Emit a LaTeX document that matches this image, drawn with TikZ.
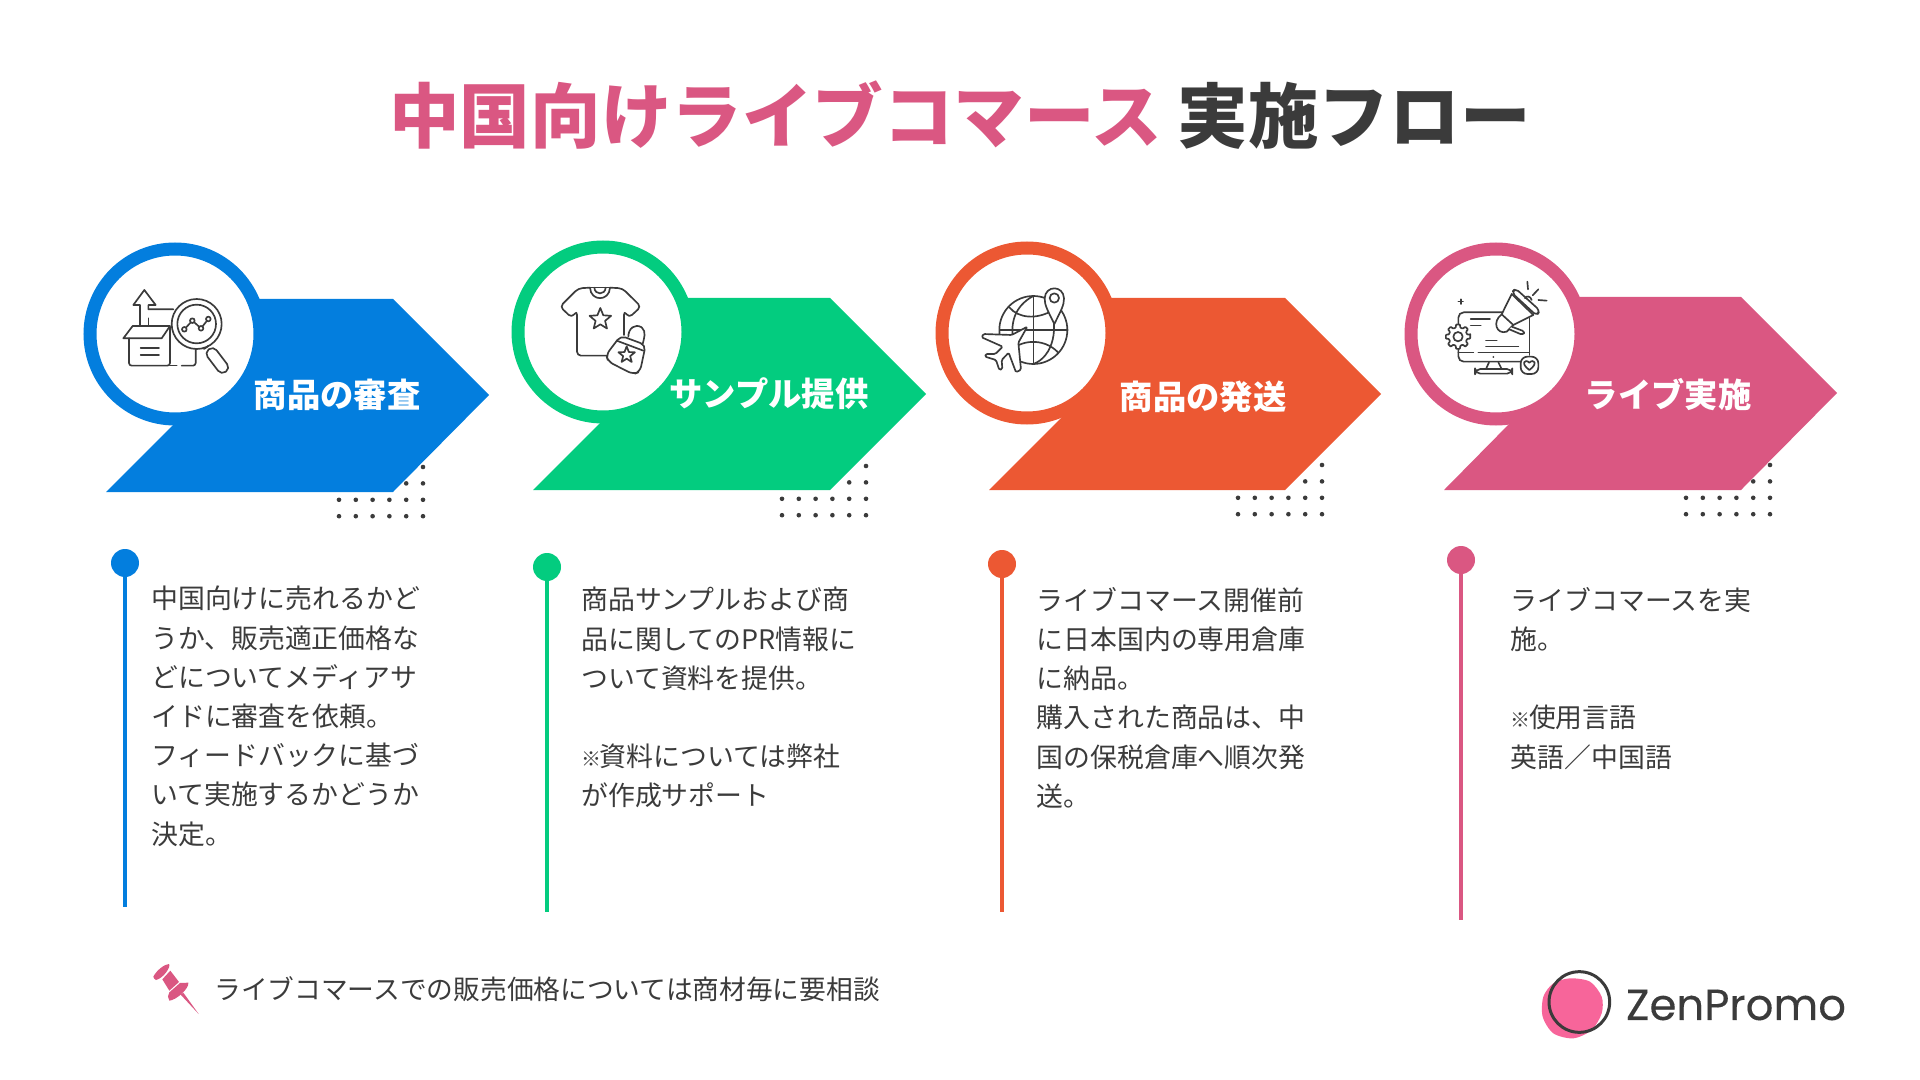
\documentclass[tikz,border=0pt]{standalone}
\usepackage{xcolor}
\usepackage{fontspec}
\setmainfont{Noto Sans CJK JP}
\newfontfamily\logofont[FakeBold=0.25]{Poppins}
\usepackage{tikz}
\usetikzlibrary{positioning, calc}
\definecolor{ink}{HTML}{3B3B3B}
\definecolor{stepblue}{HTML}{037EDE}
\definecolor{stepgreen}{HTML}{03CC7F}
\definecolor{steporange}{HTML}{EC5833}
\definecolor{steppink}{HTML}{DA5782}
\definecolor{logopink}{HTML}{F7659A}

% dot grid under an arrow: left column x, top row y
\newcommand{\dotgrid}[2]{
  \foreach \col in {0,...,5} {
    \foreach \row in {2,3} {
      \fill[ink] ($(#1,#2)+(\col*16.8,\row*16.4)$) circle (2.3);
    }
  }
  \fill[ink] ($(#1,#2)+(84,0)$) circle (2.3);
  \fill[ink] ($(#1,#2)+(84,16.4)$) circle (2.3);
  \fill[ink] ($(#1,#2)+(67.2,16.4)$) circle (2.3);
}
% five point star: x, y, outer radius, inner radius
\newcommand{\iconstar}[4]{
  \draw[shift={(#1,#2)}] (-90:#3) \foreach \a in {0,72,...,288} {
    -- ({\a-54}:#4) -- ({\a-18}:#3) } -- cycle;
}
% small reference mark
\newcommand{\refmark}{\makebox[0.68em][l]{\fontsize{15}{29.4}\bfseries\selectfont ※}}

\begin{document}
\begin{tikzpicture}[
    x=0.75pt, y=-0.75pt,
    icon/.style={draw=ink, line width=1.25pt, line join=round, line cap=round},
    ring/.style={circle, fill=white, line width=9.75pt, minimum size=127.5pt, inner sep=0pt},
    pinhead/.style={circle, minimum size=21pt, inner sep=0pt},
    pinline/.style={line width=3.4pt},
    steplabel/.style={text=white, font=\fontsize{25}{30}\bfseries\selectfont},
    bodytext/.style={text=ink, anchor=north west, align=left, inner sep=0pt, font=\fontsize{20.15}{29.4}\selectfont}
  ]
  \useasboundingbox (0,0) rectangle (1920,1080);

  % Title
  \node[font=\fontsize{52.9}{60}\bfseries\selectfont, text=ink] (title) at (960,115)
    {\textcolor{steppink}{中国向けライブコマース} 実施フロー};

  % Arrows
  \fill[stepblue] (175,299) -- (393,299) -- (489,395) -- (393,492) -- (106,492) -- (175,423) -- (175,334) -- cycle;
  \fill[stepgreen] (603,298) -- (830,298) -- (926,394) -- (830,490) -- (533,490) -- (604,419) -- (603,332) -- cycle;
  \fill[steporange] (1027,298) -- (1285,298) -- (1381,394) -- (1285,490) -- (989,490) -- (1065,414) -- (1027,333) -- cycle;
  \fill[steppink] (1496,297) -- (1741,297) -- (1837,393) -- (1741,490) -- (1444,490) -- (1513,420) -- (1496,334) -- cycle;

  % Dots
  \dotgrid{339}{467}
  \dotgrid{782}{466}
  \dotgrid{1238}{465}
  \dotgrid{1686}{465}

  % Rings
  \node[ring, draw=stepblue] (ring1) at (175,334) {};
  \node[ring, draw=stepgreen] (ring2) at (603,332) {};
  \node[ring, draw=steporange] (ring3) at (1027,333) {};
  \node[ring, draw=steppink] (ring4) at (1496,334) {};

  % Step labels
  \node[steplabel] (label1) at (337,395) {商品の審査};
  \node[steplabel] (label2) at (769,394) {サンプル提供};
  \node[steplabel] (label3) at (1203,397) {商品の発送};
  \node[steplabel] (label4) at (1668,395) {ライブ実施};

  % Box and magnifier icon
  \begin{scope}[shift={(60,220)}, x=0.25pt, y=-0.25pt, icon]
    \draw[rounded corners=2pt] (207,355) -- (207,437) -- (330,437) -- (330,320);
    \draw (190,355) -- (218,318) -- (330,318) -- (305,355) -- cycle;
    \draw (242,385) -- (297,385) (242,405) -- (297,405);
    \draw (240,316) -- (240,255) -- (220,255) -- (253,210) -- (287,255) -- (265,255) -- (265,268) -- (340,268);
    \draw (265,295) -- (265,316);
    \draw (330,437) -- (350,437);
    \draw[rounded corners=2pt] (365,437) -- (407,437) -- (407,385);
    \draw[fill=white] (410,312) circle (75);
    \draw (410,312) circle (58);
    \draw (373,328) -- (397,302) -- (423,325) -- (445,297);
    \draw[fill=white] (373,328) circle (7) (397,302) circle (7) (423,325) circle (7) (445,297) circle (7);
    \draw (432,387) -- (445,378);
    \draw[rounded corners=4pt, fill=white] (460,378) -- (511,445) -- (484,465) -- (433,398) -- cycle;
  \end{scope}

  % Shirt and bag icon
  \begin{scope}[shift={(500,220)}, x=0.25pt, y=-0.25pt, icon]
    \draw[rounded corners=3pt] (270,203) -- (235,205) -- (180,260) -- (215,293) -- (231,272) -- (231,407) -- (325,407);
    \draw[rounded corners=3pt] (330,203) -- (367,205) -- (423,260) -- (387,293) -- (372,272) -- (372,345);
    \draw (270,203) -- (330,203);
    \draw (270,203) .. controls (272,245) and (328,245) .. (330,203);
    \draw (283,203) .. controls (285,226) and (315,226) .. (317,203);
    \iconstar{301}{298}{34}{15}
    \draw[fill=white] (385,350) .. controls (385,325) and (405,310) .. (425,322) .. controls (440,335) and (432,355) .. (428,372);
    \draw[rounded corners=4pt, fill=white] (362,347) -- (437,375) -- (420,455) -- (400,463) -- (325,425) -- (318,405) -- cycle;
    \draw (350,362) -- (430,392);
    \iconstar{380}{405}{26}{11}
  \end{scope}

  % Globe and plane icon
  \begin{scope}[shift={(920,220)}, x=0.25pt, y=-0.25pt, icon]
    \draw (340,330) circle (102);
    \draw (340,228) -- (340,432);
    \draw (240,330) -- (443,330);
    \draw (268,262) .. controls (295,295) and (350,300) .. (400,270);
    \draw (268,398) .. controls (295,360) and (370,350) .. (415,398);
    \draw (340,228) .. controls (280,260) and (262,320) .. (290,400);
    \draw (340,432) .. controls (400,410) and (420,320) .. (385,245);
    % plane
    \draw[fill=white, rounded corners=1pt] (322,320) -- (275,345) -- (190,342) -- (185,352) -- (248,380) -- (226,402) -- (197,402) -- (195,410) -- (228,420) -- (238,450) -- (247,447) -- (245,420) -- (266,398) -- (288,457) -- (303,449) -- (295,368) -- cycle;
    % pin
    \draw[fill=white] (403,312) .. controls (385,275) and (373,255) .. (374,235) .. controls (376,195) and (430,195) .. (432,235) .. controls (433,255) and (421,275) .. (403,312) -- cycle;
    \draw (403,234) circle (14);
  \end{scope}

  % Monitor and megaphone icon
  \begin{scope}[shift={(1390,220)}, x=0.25pt, y=-0.25pt, icon]
    \draw[rounded corners=4pt] (205,310) -- (205,277) -- (340,277);
    \draw[rounded corners=4pt] (205,388) -- (205,425) -- (392,425);
    \draw (418,295) -- (418,405);
    \draw (205,398) -- (250,398) (265,398) -- (418,398);
    \draw (297,427) -- (288,447) (325,427) -- (335,447);
    \draw[rounded corners=4pt] (255,461) -- (255,447) -- (367,447) -- (367,461) -- cycle;
    \fill[ink] (310,411) circle (3);
    \draw (242,298) -- (300,298) (242,317) -- (272,317);
    \draw (288,362) -- (320,362) (288,380) -- (385,380);
    \draw (212,238) -- (212,252) (205,245) -- (219,245);
    \begin{scope}[shift={(204,350)}]
      \draw[fill=white, rounded corners=0.5pt] (-9:37) \foreach \a in {0,45,...,315} {
        -- ({\a+9}:37) -- ({\a+14}:28) -- ({\a+31}:28) -- ({\a+36}:37) } -- cycle;
      \draw (0,0) circle (14);
    \end{scope}
    % megaphone
    \draw[fill=white] (365,222) -- (335,283) .. controls (305,305) and (320,345) .. (350,335) -- (370,315) -- (430,285) -- cycle;
    \draw (335,283) -- (370,315);
    \draw[rounded corners=2pt, fill=white] (365,320) -- (405,335) -- (398,345) -- (358,328);
    \draw[rounded corners=3pt, fill=white] (365,218) -- (376,205) -- (450,272) -- (440,287) -- cycle;
    \draw (405,235) .. controls (408,226) and (422,228) .. (425,240);
    \draw (412,185) -- (414,208) (445,208) -- (428,226) (445,240) -- (470,242);
    % heart box
    \draw[rounded corners=5pt, fill=white] (392,410) rectangle (445,462);
    \draw (418,450) .. controls (390,430) and (405,415) .. (418,428) .. controls (431,415) and (446,430) .. (418,450);
  \end{scope}

  % Timeline pins
  \node[pinhead, fill=stepblue] (pin1) at (125,563) {};
  \node[pinhead, fill=stepgreen] (pin2) at (547,567) {};
  \node[pinhead, fill=steporange] (pin3) at (1002,564) {};
  \node[pinhead, fill=steppink] (pin4) at (1461,560) {};
  \coordinate (end1) at (125,907);
  \coordinate (end2) at (547,912);
  \coordinate (end3) at (1002,912);
  \coordinate (end4) at (1461,920);
  \draw[pinline, stepblue] (pin1) -- (end1);
  \draw[pinline, stepgreen] (pin2) -- (end2);
  \draw[pinline, steporange] (pin3) -- (end3);
  \draw[pinline, steppink] (pin4) -- (end4);

  % Descriptions
  \node[bodytext] (text1) at (151,586) {中国向けに売れるかど\\うか、販売適正価格な\\どについてメディアサ\\イドに審査を依頼。\\フィードバックに基づ\\いて実施するかどうか\\決定。};
  \node[bodytext] (text2) at (581,587) {商品サンプルおよび商\\品に関してのPR情報に\\ついて資料を提供。\\~\\\refmark 資料については弊社\\が作成サポート};
  \node[bodytext] (text3) at (1036.5,587) {ライブコマース開催前\\に日本国内の専用倉庫\\に納品。\\購入された商品は、中\\国の保税倉庫へ順次発\\送。};
  \node[bodytext] (text4) at (1510.5,587) {ライブコマースを実\\施。\\~\\\refmark 使用言語\\英語／中国語};

  % Footer note
  \begin{scope}[shift={(130,950)}, x=0.25pt, y=-0.25pt]
    \fill[steppink] (70,80) .. controls (80,60) and (105,42) .. (117,42) .. controls (124,50) and (100,85) .. (78,90) .. controls (74,88) and (71,85) .. (70,80) -- cycle;
    \fill[steppink] (97,88) -- (121,62) -- (147,96) -- (118,122) -- cycle;
    \fill[steppink] (118,127) -- (150,99) -- (175,98) .. controls (178,115) and (140,150) .. (118,152) .. controls (112,145) and (113,135) .. (118,127) -- cycle;
    \fill[steppink] (152,134) -- (160,128) -- (206,192) -- cycle;
  \end{scope}
  \node[text=ink, font=\fontsize{20.05}{24}\selectfont, anchor=west, inner sep=0pt] (note) at (214,989) {ライブコマースでの販売価格については商材毎に要相談};

  % Logo
  \begin{scope}[shift={(1520,950)}, x=0.25pt, y=-0.25pt]
    \fill[logopink] plot[smooth cycle] coordinates {(100,100) (150,85) (210,95) (245,140) (245,190) (215,240) (160,265) (100,250) (68,200) (70,140)};
    \draw[ink, line width=2.25pt] (178,156) circle (91);
  \end{scope}
  \node[text=ink, font=\logofont\fontsize{32.6}{36}\selectfont, inner sep=0pt] (logo) at (1736,1005) {ZenPromo};
\end{tikzpicture}
\end{document}
